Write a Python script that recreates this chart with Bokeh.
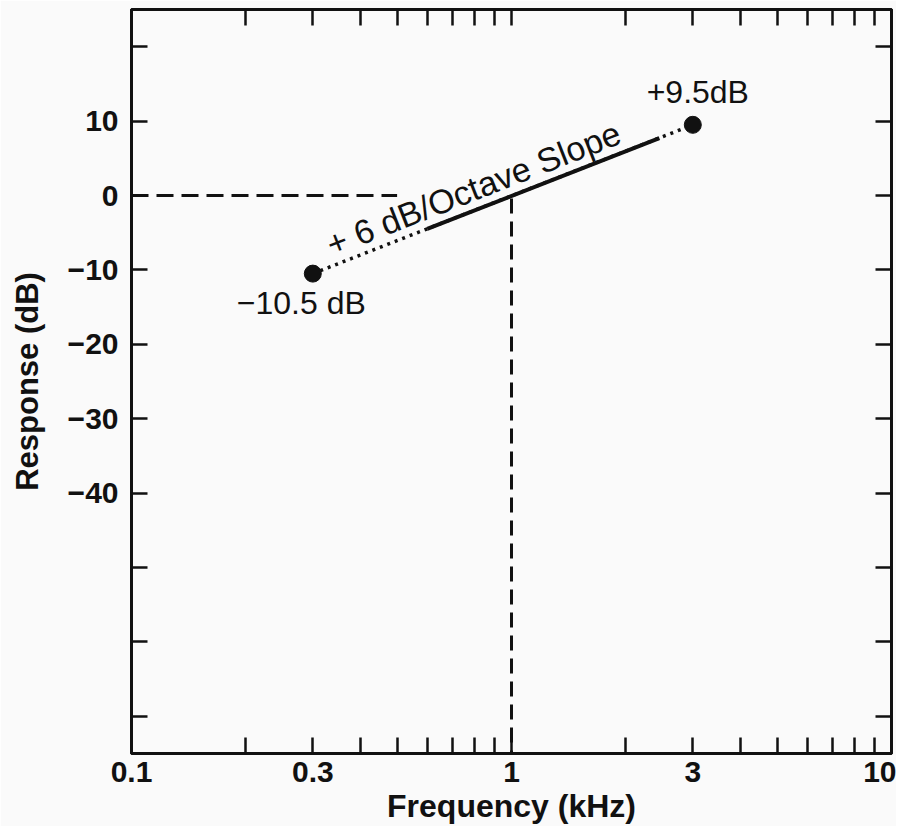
from bokeh.plotting import figure
from bokeh.models import LogAxis, LinearAxis, FixedTicker, ColumnDataSource, Range1d
from bokeh.embed import file_html
from bokeh.resources import INLINE
from bokeh.core.properties import value

# ---- data ----
freq_ticks = [0.1, 0.2, 0.3, 0.4, 0.5, 0.6, 0.7, 0.8, 0.9, 1, 2, 3, 4, 5, 6, 7, 8, 9, 10]
freq_tick_labels = {0.1: "0.1", 0.3: "0.3", 1: "1", 3: "3", 10: "10"}
db_ticks = [-70, -60, -50, -40, -30, -20, -10, 0, 10, 20]
db_tick_labels = {10: "10", 0: "0", -10: "\u221210", -20: "\u221220", -30: "\u221230", -40: "\u221240"}

endpoint_freq = [0.3, 3]          # kHz
endpoint_db = [-10.5, 9.5]        # dB
endpoint_text = ["\u221210.5 dB", "+9.5dB"]
solid_freq = [0.6, 2.45]          # solid part of the slope line
solid_db = [-4.5, 7.7]
ref_freq = [0.1, 0.5]             # dashed 0 dB reference
ref_db = [0, 0]
cross_freq = [1, 1]               # dashed 1 kHz marker
cross_db = [-0.4, -75]
slope_text = "+ 6 dB/Octave Slope"

FONT = "Liberation Sans"
INK = "#111111"
BG = "#fafafa"

p = figure(width=896, height=826, x_axis_type="log",
           x_range=Range1d(0.1, 10), y_range=Range1d(-75, 25),
           output_backend="svg", toolbar_location=None,
           min_border_left=131, min_border_right=5, min_border_top=9, min_border_bottom=0)
p.background_fill_color = BG
p.border_fill_color = BG
p.outline_line_color = INK
p.outline_line_width = 3
p.xgrid.visible = False
p.ygrid.visible = False

def style_axis(ax, labels, font_size, standoff):
    ax.major_tick_in = 16
    ax.major_tick_out = 0
    ax.minor_tick_line_color = None
    ax.major_tick_line_width = 2.5
    ax.major_tick_line_color = INK
    ax.axis_line_color = INK
    ax.axis_line_width = 3
    ax.major_label_text_font = FONT
    ax.major_label_text_font_style = "bold"
    ax.major_label_text_font_size = font_size
    ax.major_label_text_color = INK
    ax.major_label_standoff = standoff
    ax.major_label_overrides = labels

x_over = {t: freq_tick_labels.get(t, "") for t in freq_ticks}
y_over = {t: db_tick_labels.get(t, "") for t in db_ticks}
blank_x = {t: "" for t in freq_ticks}
blank_y = {t: "" for t in db_ticks}

xa = p.xaxis[0]
xa.ticker = FixedTicker(ticks=freq_ticks)
style_axis(xa, x_over, "30px", 8)
xa.axis_label = "Frequency (kHz)"
xa.axis_label_text_font = FONT
xa.axis_label_text_font_style = "bold"
xa.axis_label_text_font_size = "32px"
xa.axis_label_text_color = INK
xa.axis_label_standoff = 3

ya = p.yaxis[0]
ya.ticker = FixedTicker(ticks=db_ticks)
style_axis(ya, y_over, "30px", 13)
ya.axis_label = "Response (dB)"
ya.axis_label_text_font = FONT
ya.axis_label_text_font_style = "bold"
ya.axis_label_text_font_size = "31px"
ya.axis_label_text_color = INK
ya.axis_label_standoff = 20

top = LogAxis(ticker=FixedTicker(ticks=freq_ticks))
style_axis(top, blank_x, "0px", 0)
p.add_layout(top, "above")
right = LinearAxis(ticker=FixedTicker(ticks=db_ticks))
style_axis(right, blank_y, "0px", 0)
p.add_layout(right, "right")

# dashed reference lines
p.line(ref_freq, ref_db, line_color=INK, line_width=3, line_dash="17 8")
p.line(cross_freq, cross_db, line_color=INK, line_width=3, line_dash="15 8")

# slope line: dotted ends, solid middle
p.line(endpoint_freq, endpoint_db, line_color=INK, line_width=3.5, line_dash="3 5")
p.line(solid_freq, solid_db, line_color=INK, line_width=4)
p.scatter(endpoint_freq, endpoint_db, size=17, color=INK)

# annotations
lab = ColumnDataSource(dict(x=endpoint_freq, y=endpoint_db, t=endpoint_text,
                            xo=[-76, 5], yo=[29, -33], al=["left", "center"]))
p.text(x="x", y="y", text="t", source=lab, x_offset="xo", y_offset="yo",
       text_align="al", text_baseline="alphabetic",
       text_font=value(FONT), text_font_size="32px", text_color=INK)

slope = ColumnDataSource(dict(x=[endpoint_freq[0]], y=[endpoint_db[0]], t=[slope_text]))
p.text(x="x", y="y", text="t", source=slope, x_offset=15, y_offset=-28,
       angle=21.4, angle_units="deg", text_align="left", text_baseline="alphabetic",
       text_font=value(FONT), text_font_size="34px", text_color=INK)

open("out.html", "w").write(file_html(p, INLINE))
